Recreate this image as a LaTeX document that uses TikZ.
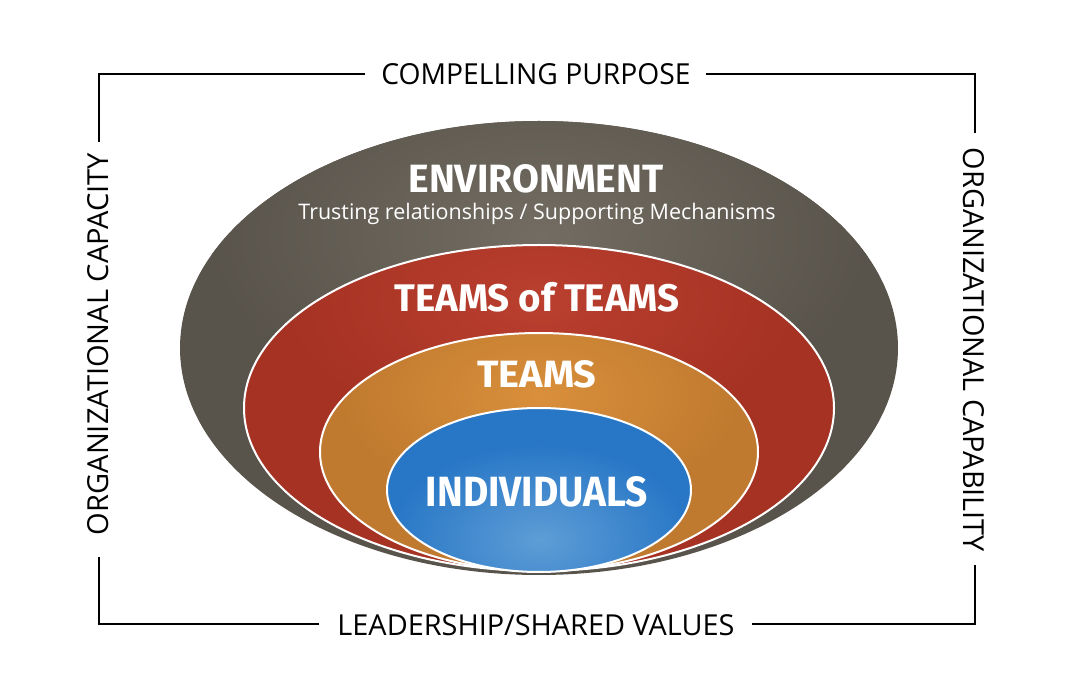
\documentclass[tikz,border=0pt]{standalone}
\usepackage{fontspec}
\setmainfont{Open Sans}
\newfontfamily\headfont{Fira Sans}
\usepackage{graphicx}
\definecolor{envbase}{HTML}{59544B}
\definecolor{envlight}{HTML}{726C62}
\definecolor{totbase}{HTML}{A53223}
\definecolor{totlight}{HTML}{BA3F2F}
\definecolor{tmbase}{HTML}{C07A2F}
\definecolor{tmlight}{HTML}{D98F3B}
\definecolor{indbase}{HTML}{2877C6}
\definecolor{indlight}{HTML}{5E9DD6}
\tikzset{
  frameline/.style={line width=2pt, black, line cap=butt, line join=miter},
  ringedge/.style={white, line width=2pt},
  headtxt/.style={inner sep=0pt, text=white, font=\headfont\bfseries},
  frametxt/.style={inner sep=0pt, text=black},
}
\begin{document}
\begin{tikzpicture}[x=1pt,y=-1pt]
\useasboundingbox (0,0) rectangle (1080,684);

% Environment
\fill[envbase] (539,348) ellipse [x radius=359, y radius=227];
\begin{scope}
  \clip (539,348) ellipse [x radius=359, y radius=227];
  \shade[inner color=envlight, outer color=envbase] (540,235) ellipse [x radius=330, y radius=190];
\end{scope}

% Teams of Teams
\fill[totbase] (539,408) ellipse [x radius=295, y radius=163];
\begin{scope}
  \clip (539,408) ellipse [x radius=295, y radius=163];
  \shade[inner color=totlight, outer color=totbase] (540,300) ellipse [x radius=260, y radius=140];
\end{scope}
\draw[ringedge] (539,408) ellipse [x radius=295, y radius=163];

% Teams
\fill[tmbase] (539,452) ellipse [x radius=219, y radius=119];
\begin{scope}
  \clip (539,452) ellipse [x radius=219, y radius=119];
  \shade[inner color=tmlight, outer color=tmbase] (540,395) ellipse [x radius=200, y radius=110];
\end{scope}
\draw[ringedge] (539,452) ellipse [x radius=219, y radius=119];

% Individuals
\fill[indbase] (539,490) ellipse [x radius=152, y radius=82];
\begin{scope}
  \clip (539,490) ellipse [x radius=152, y radius=82];
  \shade[inner color=indlight, outer color=indbase] (540,540) ellipse [x radius=150, y radius=95];
\end{scope}
\draw[ringedge] (539,490) ellipse [x radius=152, y radius=82];

% Labels inside
\node[headtxt] (env) at (536,179) {\resizebox{255pt}{28pt}{ENVIRONMENT}};
\node[inner sep=0pt, text=white] (envsub) at (537,214) {\resizebox{477pt}{!}{Trusting relationships / Supporting Mechanisms}};
\node[headtxt] (tot) at (537,297) {\resizebox{285pt}{!}{TEAMS of TEAMS}};
\node[headtxt] (teams) at (537,374) {\resizebox{119pt}{27pt}{TEAMS}};
\node[headtxt] (ind) at (537,492) {\resizebox{222pt}{30pt}{INDIVIDUALS}};

% Frame labels
\node[frametxt] (purpose) at (536,74) {\resizebox{309pt}{21pt}{COMPELLING PURPOSE}};
\node[frametxt, anchor=base] (values) at (536,635) {\resizebox{397pt}{!}{LEADERSHIP/SHARED VALUES}};
\node[frametxt, rotate=90] (capacity) at (98,344) {\resizebox{382pt}{21pt}{ORGANIZATIONAL CAPACITY}};
\node[frametxt, rotate=-90] (capability) at (974,350) {\resizebox{404pt}{21pt}{ORGANIZATIONAL CAPABILITY}};

% Frame
\coordinate (tl) at (99,74);
\coordinate (tr) at (975,74);
\coordinate (bl) at (99,624);
\coordinate (br) at (975,624);
\coordinate (t1) at (365,74);
\coordinate (t2) at (706,74);
\coordinate (l1) at (99,142);
\coordinate (l2) at (99,557);
\coordinate (r1) at (975,133);
\coordinate (r2) at (975,565);
\coordinate (b1) at (319,624);
\coordinate (b2) at (752,624);
\draw[frameline] (l1) -- (tl) -- (t1);
\draw[frameline] (t2) -- (tr) -- (r1);
\draw[frameline] (r2) -- (br) -- (b2);
\draw[frameline] (b1) -- (bl) -- (l2);
\end{tikzpicture}
\end{document}
